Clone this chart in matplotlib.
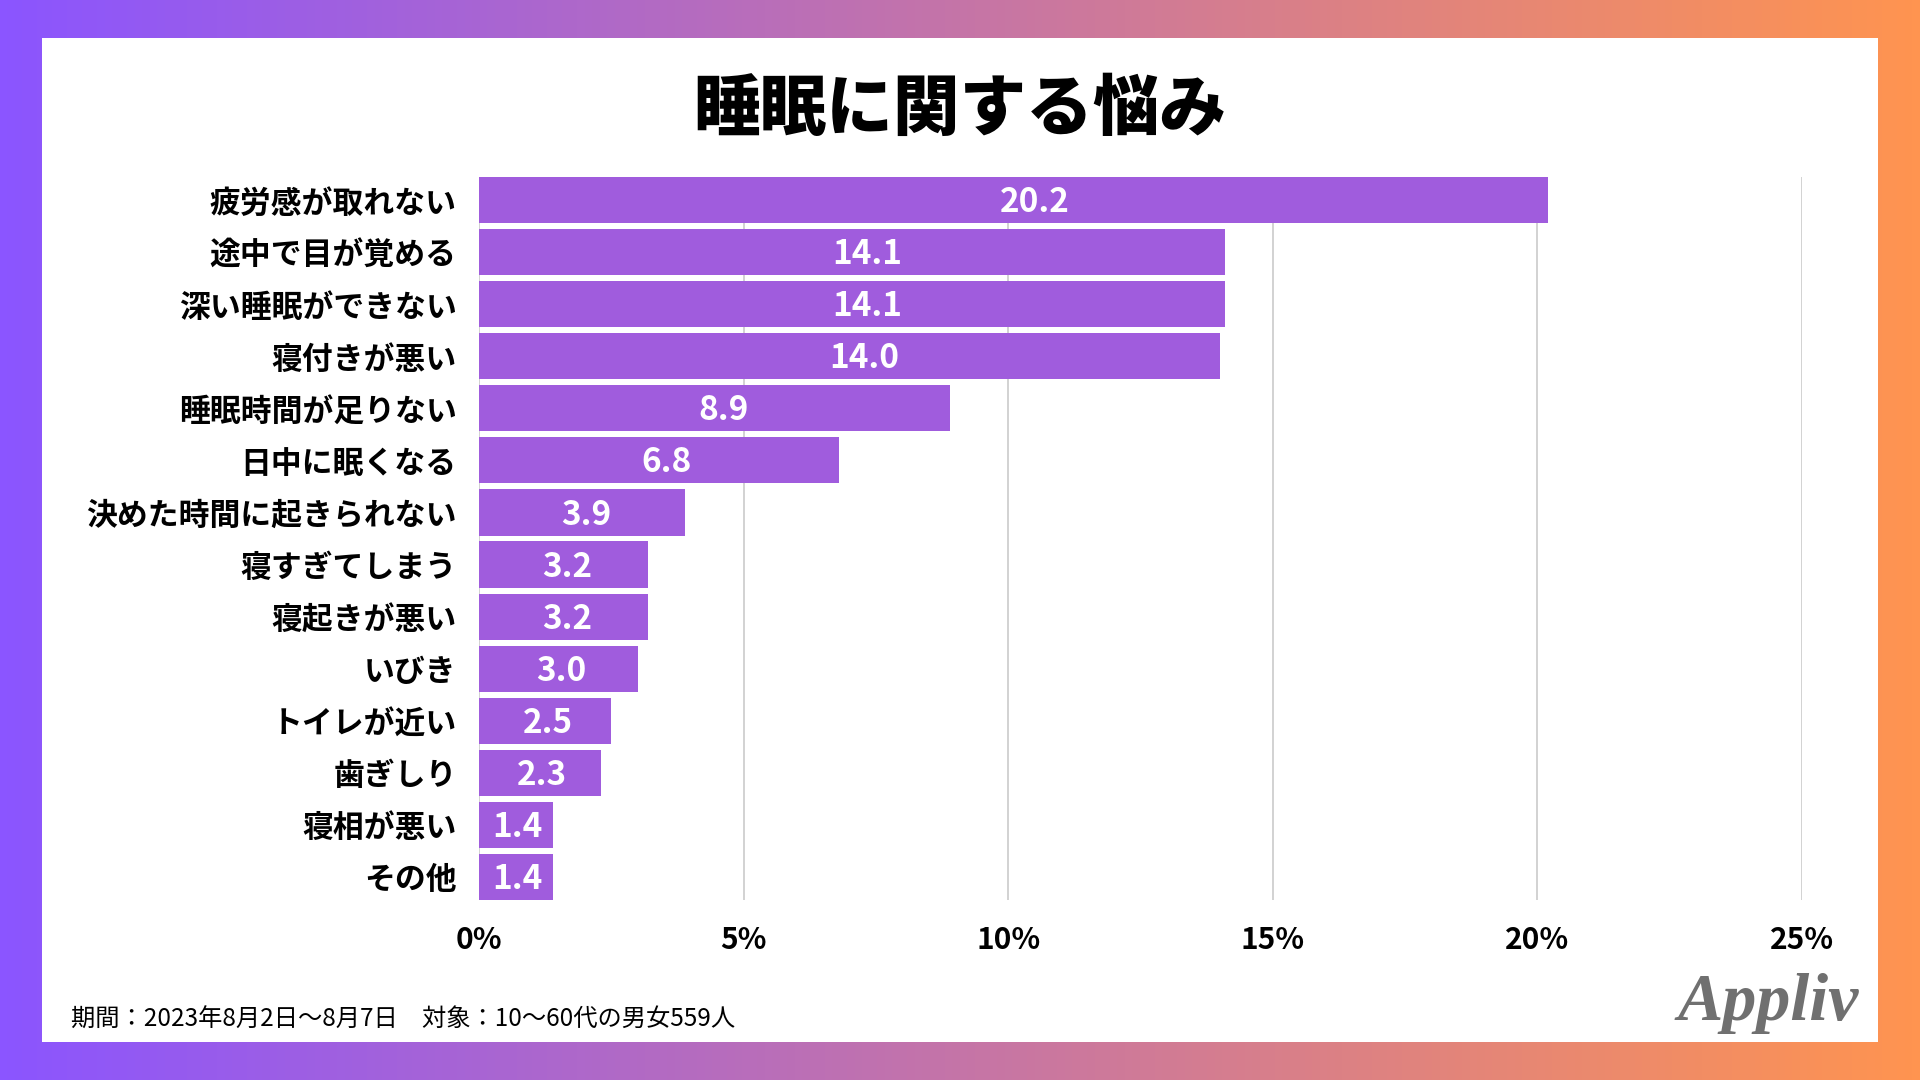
import numpy as np
import matplotlib
matplotlib.use("Agg")
import matplotlib.pyplot as plt
from matplotlib.patches import Rectangle
from matplotlib.colors import LinearSegmentedColormap

plt.rcParams["font.family"] = ["Noto Sans CJK JP", "DejaVu Sans"]

# データ
labels = [
    "疲労感が取れない", "途中で目が覚める", "深い睡眠ができない", "寝付きが悪い",
    "睡眠時間が足りない", "日中に眠くなる", "決めた時間に起きられない", "寝すぎてしまう",
    "寝起きが悪い", "いびき", "トイレが近い", "歯ぎしり", "寝相が悪い", "その他",
]
values = [20.2, 14.1, 14.1, 14.0, 8.9, 6.8, 3.9, 3.2, 3.2, 3.0, 2.5, 2.3, 1.4, 1.4]
xticks = [0, 5, 10, 15, 20, 25]
title = "睡眠に関する悩み"
footer = "期間：2023年8月2日～8月7日　対象：10～60代の男女559人"

BAR = "#A05CDD"
W, H = 1920, 1080

fig = plt.figure(figsize=(W / 100, H / 100), dpi=100)

# 背景グラデーション
bg = fig.add_axes([0, 0, 1, 1])
cmap = LinearSegmentedColormap.from_list("bg", ["#8B55FF", "#FF9450"])
bg.imshow(np.linspace(0, 1, 256)[None, :], cmap=cmap, aspect="auto",
          extent=[0, 1, 0, 1])
bg.set_xlim(0, 1)
bg.set_ylim(0, 1)
bg.axis("off")
bg.add_patch(Rectangle((42 / W, 38 / H), 1836 / W, 1004 / H,
                       facecolor="white", edgecolor="none"))

# グラフ本体
ax = fig.add_axes([479 / W, 180 / H, 1323 / W, 723 / H])
y = np.arange(len(labels))
ax.barh(y, values, height=0.885, color=BAR, zorder=2)
for yi, v in zip(y, values):
    ax.text(v * 0.52, yi + 0.05, f"{v:.1f}", ha="center", va="center",
            color="white", fontsize=24, fontweight="bold", zorder=3)

ax.set_xlim(0, 25)
ax.set_ylim(13.442, -0.442)
ax.set_xticks(xticks)
ax.set_xticklabels([f"{t}%" for t in xticks])
ax.set_yticks(y)
ax.set_yticklabels(labels)
ax.tick_params(axis="x", length=0, labelsize=21.5, pad=18)
ax.tick_params(axis="y", length=0, labelsize=22.2, pad=16)
for lab in ax.get_xticklabels() + ax.get_yticklabels():
    lab.set_fontweight("bold")
ax.grid(axis="x", color="#CFCFCF", linewidth=1.3, zorder=0)
ax.set_axisbelow(True)
for s in ax.spines.values():
    s.set_visible(False)
ax.patch.set_alpha(0)

fig.text(0.5, 1 - 110 / H, title, ha="center", va="center",
         fontsize=48, fontweight="heavy")
fig.text(71 / W, 1 - 1020 / H, footer, ha="left", va="center", fontsize=17.5)
fig.text(1768 / W, 1 - 1004 / H, "Appliv", ha="center", va="center",
         fontsize=49, color="#707070", family="Liberation Serif",
         style="italic", fontweight="bold")

fig.savefig("out.png", dpi=100)
